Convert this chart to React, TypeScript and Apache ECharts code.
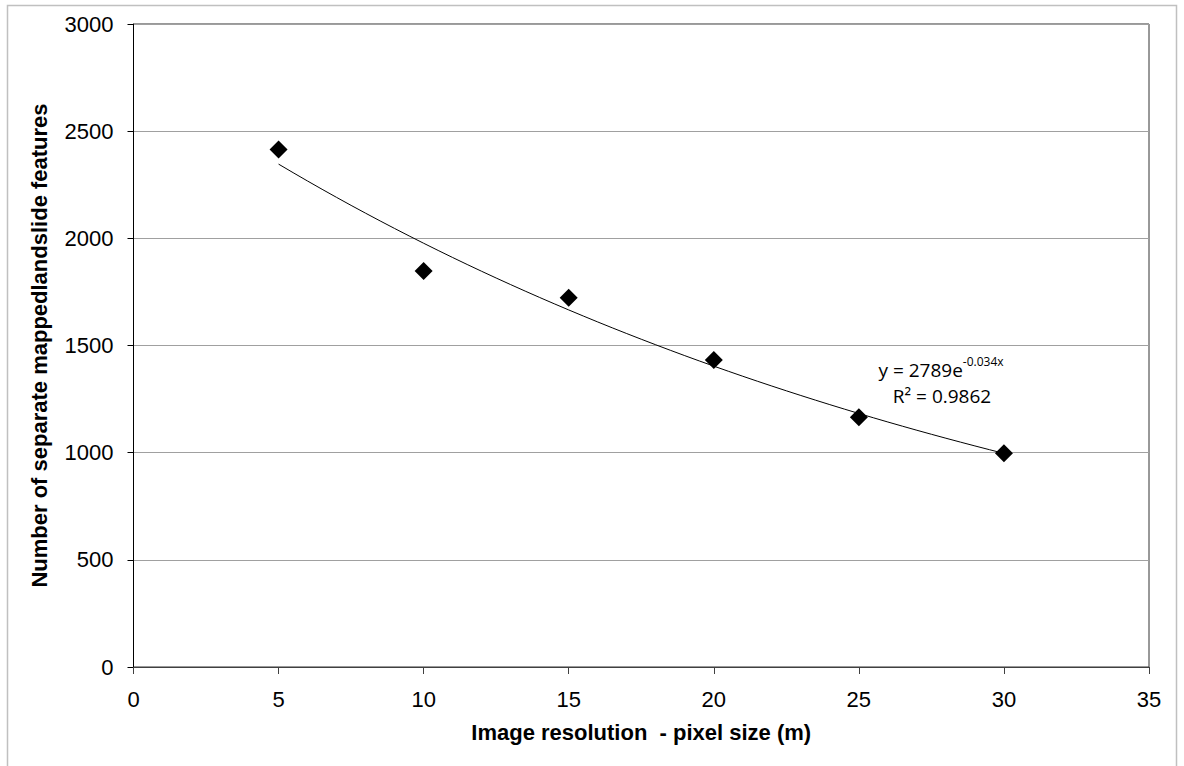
import React, { useEffect, useRef } from "react";
import * as echarts from "echarts";

const resolution = [5, 10, 15, 20, 25, 30];
const features = [2415, 1848, 1723, 1432, 1165, 997];
const xTicks = [0, 5, 10, 15, 20, 25, 30, 35];
const yTicks = [0, 500, 1000, 1500, 2000, 2500, 3000];
const xTitle = "Image resolution  - pixel size (m)";
const yTitle = "Number of separate mappedlandslide features";
const eqCoef = "2789";
const eqExp = "-0.034x";
const r2Text = "R\u00B2 = 0.9862";

// Exponential least-squares fit on the data (as a spreadsheet trendline does)
function expFit(xs: number[], ys: number[]) {
  const n = xs.length;
  const ly = ys.map((v) => Math.log(v));
  const mx = xs.reduce((a, b) => a + b, 0) / n;
  const my = ly.reduce((a, b) => a + b, 0) / n;
  let num = 0, den = 0;
  for (let i = 0; i < n; i++) {
    num += (xs[i] - mx) * (ly[i] - my);
    den += (xs[i] - mx) ** 2;
  }
  const b = num / den;
  const a = Math.exp(my - b * mx);
  return { a, b };
}

const EQ_FONT = "Open Sans, Liberation Sans";

export default function App() {
  const ref = useRef<HTMLDivElement>(null);
  useEffect(() => {
    if (!ref.current) return;
    const chart = echarts.init(ref.current, null, { renderer: "svg" });
    const { a, b } = expFit(resolution, features);
    const x0 = resolution[0];
    const x1 = resolution[resolution.length - 1];
    const trend: number[][] = [];
    const steps = 50;
    for (let i = 0; i <= steps; i++) {
      const x = x0 + ((x1 - x0) * i) / steps;
      trend.push([x, a * Math.exp(b * x)]);
    }
    chart.setOption({
      animation: false,
      backgroundColor: "#ffffff",
      grid: { left: 133.5, right: 35, top: 24, bottom: 99, show: true, borderColor: "#333", borderWidth: 1 },
      xAxis: {
        type: "value",
        min: xTicks[0],
        max: xTicks[xTicks.length - 1],
        interval: 5,
        name: xTitle,
        nameLocation: "middle",
        nameGap: 54,
        nameTextStyle: { fontFamily: "Liberation Sans, Arial", fontWeight: "bold", fontSize: 22, color: "#000" },
        axisLine: { show: true, onZero: false, lineStyle: { color: "#404040", width: 1 } },
        axisTick: { show: true, length: 7, inside: false, lineStyle: { color: "#404040" } },
        axisLabel: { fontFamily: "Liberation Sans, Arial", fontSize: 22, color: "#000", margin: 21 },
        splitLine: { show: false },
      },
      yAxis: {
        type: "value",
        min: yTicks[0],
        max: yTicks[yTicks.length - 1],
        interval: 500,
        name: yTitle,
        nameLocation: "middle",
        nameGap: 83,
        nameTextStyle: { fontFamily: "Liberation Sans, Arial", fontWeight: "bold", fontSize: 22, color: "#000" },
        axisLine: { show: true, onZero: false, lineStyle: { color: "#000", width: 1 } },
        axisTick: { show: true, length: 6, inside: false, lineStyle: { color: "#000" } },
        axisLabel: {
          fontFamily: "Liberation Sans, Arial",
          fontSize: 22,
          color: "#000",
          margin: 20,
          formatter: (v: number) => String(v),
        },
        splitLine: { show: true, lineStyle: { color: "#a0a0a0", width: 1 } },
      },
      series: [
        {
          type: "line",
          data: trend,
          showSymbol: false,
          symbol: "none",
          lineStyle: { color: "#000", width: 1 },
          silent: true,
          z: 2,
        },
        {
          type: "scatter",
          data: resolution.map((x, i) => [x, features[i]]),
          symbol: "diamond",
          symbolSize: [18, 18],
          itemStyle: { color: "#000", opacity: 1 },
          z: 3,
        },
      ],
      graphic: [
        {
          type: "rect",
          shape: { x: 7.5, y: 5.5, width: 1169, height: 800 },
          style: { fill: "none", stroke: "#c0c0c0", lineWidth: 1.5 },
          silent: true,
          z: -1,
        },
        {
          type: "text",
          x: 941,
          y: 367,
          style: {
            text: `{m|y = ${eqCoef}e}{s|${eqExp}}`,
            align: "center",
            verticalAlign: "middle",
            rich: {
              m: { fontFamily: EQ_FONT, fontSize: 19, color: "#000", verticalAlign: "bottom", lineHeight: 24 },
              s: { fontFamily: EQ_FONT, fontSize: 12, color: "#000", verticalAlign: "top", lineHeight: 20 },
            },
          },
        },
        {
          type: "text",
          x: 942,
          y: 396,
          style: {
            text: r2Text,
            fontFamily: EQ_FONT,
            fontSize: 19,
            fill: "#000",
            align: "center",
            verticalAlign: "middle",
          },
        },
      ],
    });
    return () => chart.dispose();
  }, []);
  return (
    <div
      ref={ref}
      style={{ position: "fixed", left: 0, top: 0, width: 1184, height: 766, background: "#fff" }}
    />
  );
}
